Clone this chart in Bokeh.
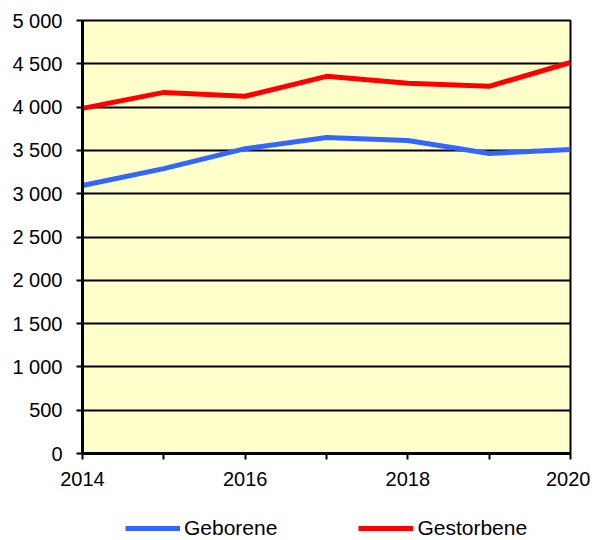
from bokeh.plotting import figure
from bokeh.models import Range1d, FixedTicker, Legend, LegendItem
from bokeh.layouts import column
from bokeh.embed import file_html
from bokeh.resources import INLINE

years = [2014, 2015, 2016, 2017, 2018, 2019, 2020]
geborene = [3095, 3290, 3520, 3650, 3615, 3465, 3510]
gestorbene = [3985, 4170, 4125, 4355, 4275, 4240, 4515]
y_ticks = [0, 500, 1000, 1500, 2000, 2500, 3000, 3500, 4000, 4500, 5000]
y_labels = ["0", "500", "1 000", "1 500", "2 000", "2 500", "3 000", "3 500", "4 000", "4 500", "5 000"]
x_major = [2014, 2016, 2018, 2020]
x_minor = [2015, 2017, 2019]
series_names = ["Geborene", "Gestorbene"]
series_colors = ["#3366FF", "#FF0000"]
series_values = [geborene, gestorbene]

FONT = "Liberation Sans"
FS = "20px"

p = figure(width=590, height=500, output_backend="svg", toolbar_location=None,
           x_range=Range1d(2014, 2020), y_range=Range1d(0, 5000),
           min_border_left=82, min_border_right=20, min_border_top=20, min_border_bottom=47)
p.background_fill_color = "#FFFFCC"
p.border_fill_color = "white"
p.outline_line_color = "black"
p.outline_line_width = 2

for vals, col in zip(series_values, series_colors):
    p.line(years, vals, line_color=col, line_width=5)

p.xgrid.grid_line_color = None
p.ygrid.grid_line_color = "black"
p.ygrid.grid_line_width = 2
p.ygrid.ticker = FixedTicker(ticks=y_ticks)

p.yaxis.ticker = FixedTicker(ticks=y_ticks)
p.yaxis.major_label_overrides = {t: l for t, l in zip(y_ticks, y_labels)}
p.xaxis.ticker = FixedTicker(ticks=x_major, minor_ticks=x_minor)

for ax in (p.xaxis[0], p.yaxis[0]):
    ax.axis_line_color = "black"
    ax.axis_line_width = 3
    ax.major_tick_line_color = "black"
    ax.major_tick_line_width = 2
    ax.major_tick_out = 6
    ax.major_tick_in = 0
    ax.minor_tick_line_color = "black"
    ax.minor_tick_line_width = 2
    ax.minor_tick_out = 6
    ax.minor_tick_in = 0
    ax.major_label_text_font = FONT
    ax.major_label_text_font_size = FS
    ax.major_label_text_color = "black"
p.yaxis.minor_tick_line_color = None
p.yaxis.major_label_standoff = 14
p.xaxis.major_label_standoff = 12

# legend strip below the chart (series drawn out of view, only legend visible)
lg = figure(width=590, height=40, output_backend="svg", toolbar_location=None,
            x_range=Range1d(0, 1), y_range=Range1d(0, 1),
            x_axis_type=None, y_axis_type=None,
            min_border_left=82, min_border_right=20, min_border_top=0, min_border_bottom=0)
lg.outline_line_color = None
lg.background_fill_color = None
lg.border_fill_color = "white"
lg.xgrid.visible = False
lg.ygrid.visible = False
items = []
for name, vals, col in zip(series_names, series_values, series_colors):
    r = lg.line(years, vals, line_color=col, line_width=5)
    items.append(LegendItem(label=name, renderers=[r]))

legend = Legend(items=items, orientation="horizontal", location=(43, 0),
                label_text_font=FONT, label_text_font_size="21px", label_text_color="black",
                glyph_width=55, glyph_height=16, label_standoff=4, spacing=81,
                border_line_color=None, background_fill_alpha=0,
                padding=0, margin=0)
lg.add_layout(legend, "center")

layout = column(p, lg, spacing=0)
open("out.html", "w").write(file_html(layout, INLINE))
